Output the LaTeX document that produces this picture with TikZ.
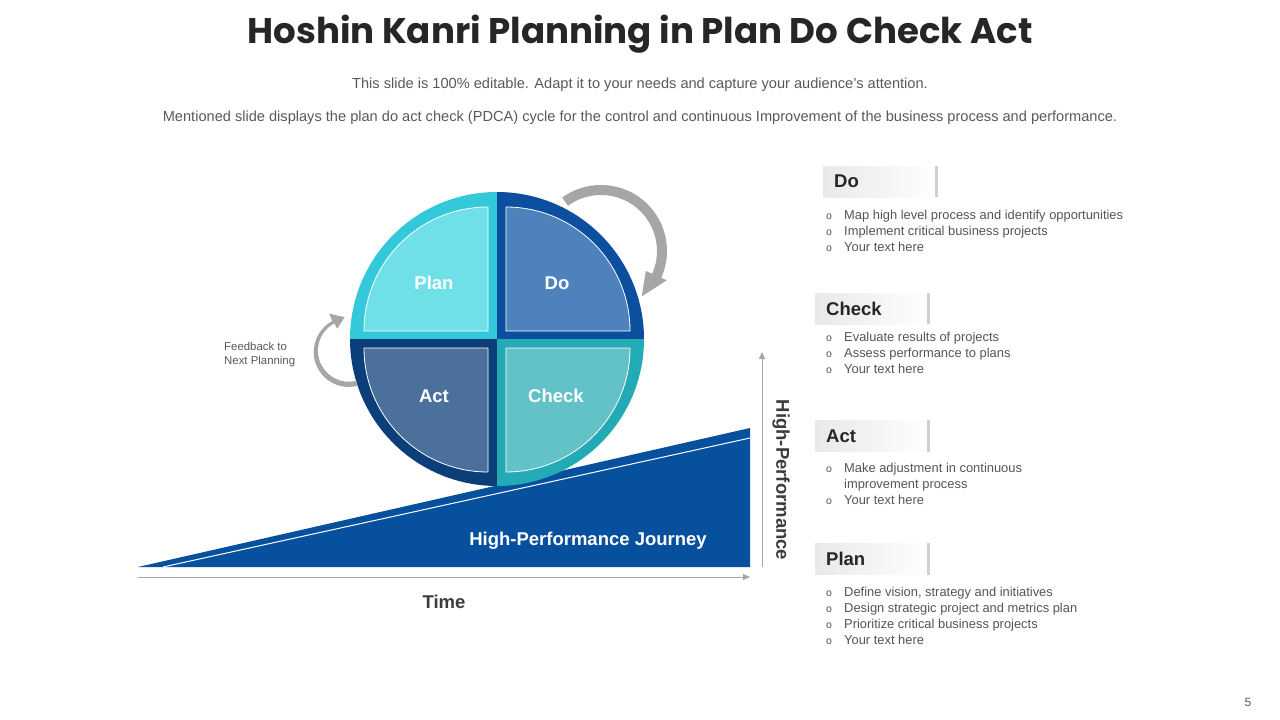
\documentclass[tikz,border=0pt]{standalone}
\usepackage{fontspec}
\setmainfont{Liberation Sans}
\newfontfamily\titlefont{Poppins}
\usetikzlibrary{arrows.meta}
\definecolor{planring}{HTML}{33C9DA}
\definecolor{planin}{HTML}{6FE0E8}
\definecolor{doring}{HTML}{0B4F9E}
\definecolor{doin}{HTML}{4F81BD}
\definecolor{actring}{HTML}{0C3F7A}
\definecolor{actin}{HTML}{4A709B}
\definecolor{checkring}{HTML}{22AAB5}
\definecolor{checkin}{HTML}{62C2C8}
\definecolor{tricol}{HTML}{07509E}
\definecolor{arrowgray}{HTML}{A6A6A6}
\definecolor{titlecol}{HTML}{262626}
\definecolor{subcol}{HTML}{595959}
\definecolor{bodycol}{HTML}{555555}
\definecolor{hdrgray}{HTML}{E9E9E9}
\definecolor{hdrbar}{HTML}{D0D0D0}
\newcommand{\bodyfont}{\fontsize{12.9}{16}\selectfont}
\newcommand{\bulo}{{\fontsize{10.5}{16}\selectfont o}}
\begin{document}
\begin{tikzpicture}[x=1pt,y=1pt,
  inq/.style={draw=white, line width=0.8pt},
  qlabel/.style={text=white, font=\bfseries\fontsize{18.5}{20}\selectfont},
  axisline/.style={draw=arrowgray, line width=1pt, -{Triangle[length=7pt,width=6pt]}},
  axlabel/.style={text=titlecol!90, font=\bfseries\fontsize{18.5}{20}\selectfont},
  hdr/.style={anchor=west, minimum height=31pt, text width=93pt, inner xsep=11pt, inner ysep=0pt,
     align=left, left color=hdrgray, right color=white, text=titlecol,
     font=\bfseries\fontsize{18.5}{20}\selectfont},
  bullets/.style={anchor=base west, inner sep=0pt, text=bodycol, font=\bodyfont}
]
\useasboundingbox (0,0) rectangle (1280,-720);
\fill[white] (0,0) rectangle (1280,-720);

% title and subtitles
\node[text=titlecol, font=\titlefont\bfseries\fontsize{35.6}{40}\selectfont] (title) at (640,-34) {Hoshin Kanri Planning in Plan Do Check Act};
\node[text=subcol, font=\fontsize{14.6}{16}\selectfont] (sub1) at (640,-85) {This slide is 100\% editable. Adapt it to your needs and capture your audience's attention.};
\node[text=subcol, font=\fontsize{14.6}{16}\selectfont] (sub2) at (640,-118) {Mentioned slide displays the plan do act check (PDCA) cycle for the control and continuous Improvement of the business process and performance.};

% ramp
\coordinate (tl) at (138,-567);
\coordinate (tr) at (750,-567);
\coordinate (tt) at (750,-428);
\fill[tricol] (tl) -- (tr) -- (tt) -- cycle;
\coordinate (wl0) at (163,-567);
\coordinate (wl1) at (750,-438);
\draw[white, line width=1pt] (wl0) -- (wl1);

% PDCA circle
\coordinate (c) at (497,-339);
\fill[planring] (c) -- ++(90:147) arc (90:180:147) -- cycle;
\fill[doring] (c) -- ++(0:147) arc (0:90:147) -- cycle;
\fill[actring] (c) -- ++(180:147) arc (180:270:147) -- cycle;
\fill[checkring] (c) -- ++(270:147) arc (270:360:147) -- cycle;
\filldraw[inq, fill=planin] (488,-331) -- ++(90:124) arc (90:180:124) -- cycle;
\filldraw[inq, fill=doin] (506,-331) -- ++(0:124) arc (0:90:124) -- cycle;
\filldraw[inq, fill=actin] (488,-348) -- ++(180:124) arc (180:270:124) -- cycle;
\filldraw[inq, fill=checkin] (506,-348) -- ++(270:124) arc (270:360:124) -- cycle;
\node[qlabel] (lplan) at (434,-283) {Plan};
\node[qlabel] (ldo) at (557,-283) {Do};
\node[qlabel] (lact) at (434,-396) {Act};
\node[qlabel] (lcheck) at (556,-396) {Check};

% curved arrows
\begin{scope}[shift={(601,-251)}]
\fill[arrowgray] (126:66) arc (126:-24:66) -- (-24:72) -- (-48:61) -- (-24:49) -- (-24:56) arc (-24:126:56) -- cycle;
\end{scope}
\begin{scope}[shift={(348,-349)}]
\fill[arrowgray] (284:38) arc (284:118:35) -- (118:40) -- (96:32) -- (118:23) -- (118:29) arc (118:284:31) -- cycle;
\end{scope}
\node[anchor=west, align=left, text=subcol, font=\fontsize{11.4}{14}\selectfont, inner sep=0pt] (fb) at (224,-355) {Feedback to\\Next Planning};

% axes
\coordinate (xa0) at (138,-577);
\coordinate (xa1) at (750,-577);
\draw[axisline] (xa0) -- (xa1);
\coordinate (ya0) at (762,-567);
\coordinate (ya1) at (762,-352);
\draw[axisline] (ya0) -- (ya1);
\node[axlabel] (time) at (444,-602) {Time};
\node[text=white, font=\bfseries\fontsize{18.5}{20}\selectfont] (hpj) at (588,-541) {High-Performance Journey};
\node[axlabel, rotate=-90] (hp) at (781,-480) {High-Performance};

% right panel
\node[hdr] (hdo) at (823,-181.5) {Do};
\fill[hdrbar] (hdo.north east) rectangle ([xshift=-3pt]hdo.south east);
\node[bullets] (bdo) at (826,-219.5) {\begin{tabular}[t]{@{}p{18pt}@{}l@{}}
\bulo & Map high level process and identify opportunities\\
\bulo & Implement critical business projects\\
\bulo & Your text here
\end{tabular}};

\node[hdr] (hcheck) at (815,-308.5) {Check};
\fill[hdrbar] (hcheck.north east) rectangle ([xshift=-3pt]hcheck.south east);
\node[bullets] (bcheck) at (826,-341.5) {\begin{tabular}[t]{@{}p{18pt}@{}l@{}}
\bulo & Evaluate results of projects\\
\bulo & Assess performance to plans\\
\bulo & Your text here
\end{tabular}};

\node[hdr] (hact) at (815,-436) {Act};
\fill[hdrbar] (hact.north east) rectangle ([xshift=-3pt]hact.south east);
\node[bullets] (bact) at (826,-472.5) {\begin{tabular}[t]{@{}p{18pt}@{}l@{}}
\bulo & Make adjustment in continuous\\
 & improvement process\\
\bulo & Your text here
\end{tabular}};

\node[hdr] (hplan) at (815,-559) {Plan};
\fill[hdrbar] (hplan.north east) rectangle ([xshift=-3pt]hplan.south east);
\node[bullets] (bplan) at (826,-596.5) {\begin{tabular}[t]{@{}p{18pt}@{}l@{}}
\bulo & Define vision, strategy and initiatives\\
\bulo & Design strategic project and metrics plan\\
\bulo & Prioritize critical business projects\\
\bulo & Your text here
\end{tabular}};

\node[text=subcol, font=\fontsize{12}{14}\selectfont] (pg) at (1248,-702) {5};
\end{tikzpicture}
\end{document}
